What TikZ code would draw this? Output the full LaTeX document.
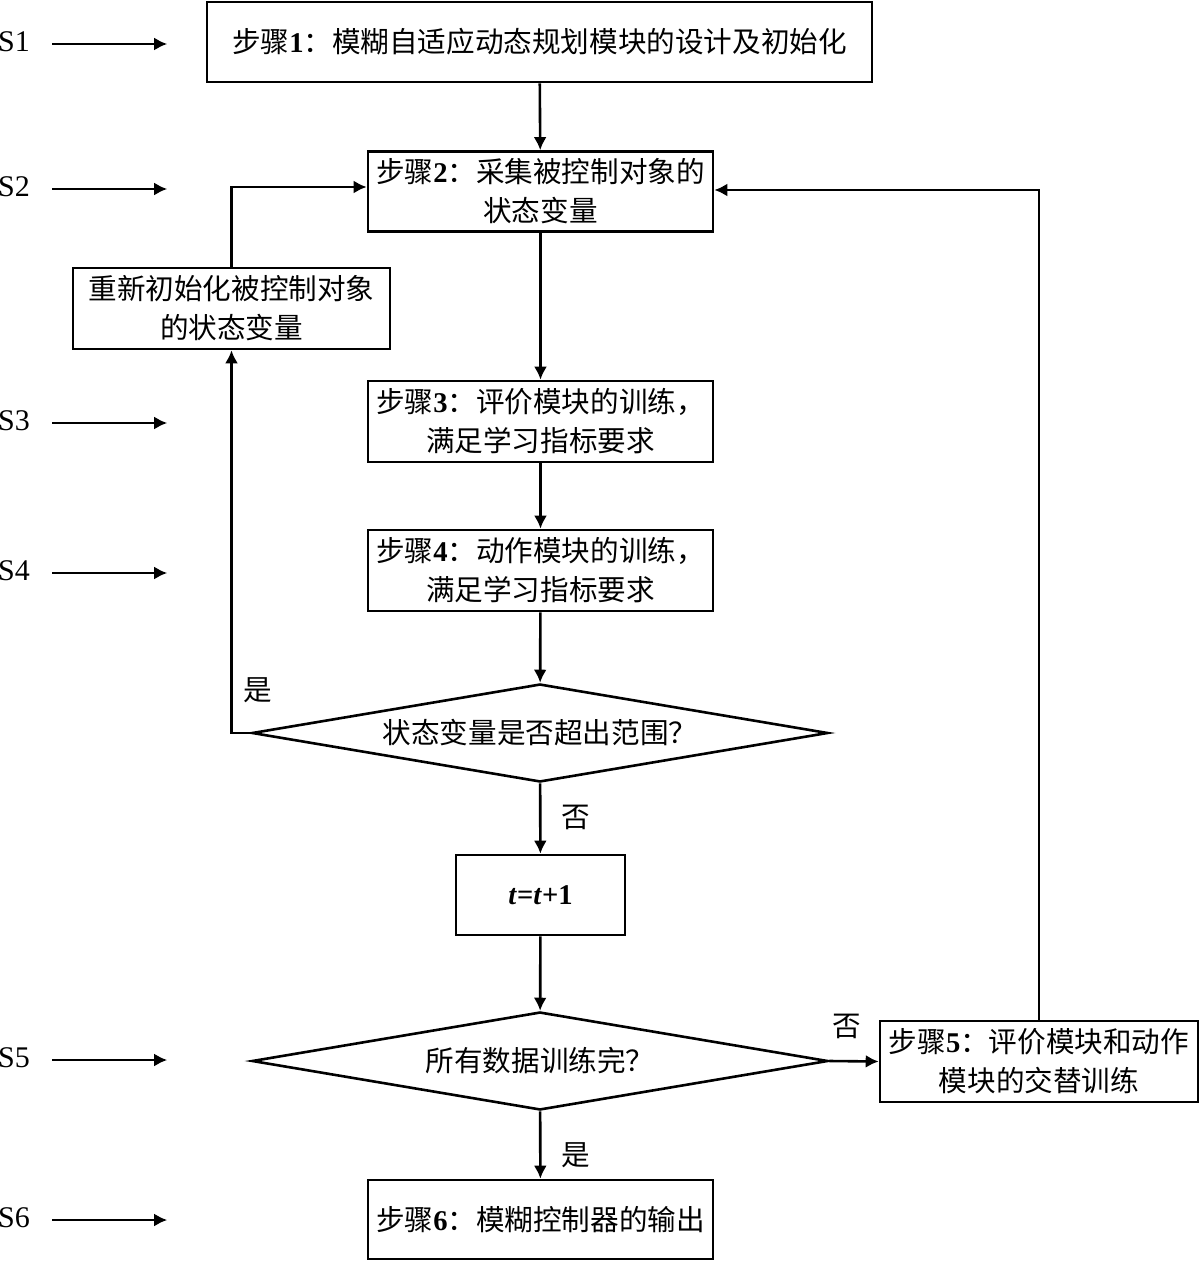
\documentclass[tikz,border=0pt]{standalone}
\usepackage{fontspec}
\setmainfont{Liberation Serif}
\newfontfamily\cjk{Noto Sans CJK SC}
\usetikzlibrary{arrows.meta,shapes.geometric,calc}
\newcommand\stepnum[1]{{\rmfamily\bfseries #1}}
\begin{document}
\begin{tikzpicture}[x=0.5pt,y=-0.5pt,
  box/.style={draw,line width=1.3pt,inner sep=0pt,align=center,font=\cjk\fontsize{14.3}{19.5}\selectfont},
  dia/.style={draw,diamond,line width=1.3pt,inner sep=0pt,aspect=5.88,minimum width=288pt,minimum height=49pt,font=\cjk\fontsize{14.3}{19.5}\selectfont},
  arr/.style={line width=1.3pt,-{Latex[length=6.5pt,width=6.5pt]}},
  ln/.style={line width=1.3pt},
  lbl/.style={font=\cjk\fontsize{14.3}{19.5}\selectfont,inner sep=0pt},
  slbl/.style={font=\rmfamily\fontsize{15}{18}\selectfont,inner sep=0pt}]
\path[use as bounding box] (0,0) rectangle (1200,1262);
% main boxes
\node[box,minimum width=332.5pt,minimum height=40pt] (b1) at (539.5,42) {步骤\stepnum{1}：模糊自适应动态规划模块的设计及初始化};
\node[box,minimum width=172.5pt,minimum height=40pt] (b2) at (540.5,191.5) {步骤\stepnum{2}：采集被控制对象的\\状态变量};
\node[box,minimum width=158.5pt,minimum height=40.5pt] (re) at (231.5,308.5) {重新初始化被控制对象\\的状态变量};
\node[box,minimum width=172.5pt,minimum height=40.5pt] (b3) at (540.5,421.5) {步骤\stepnum{3}：评价模块的训练，\\满足学习指标要求};
\node[box,minimum width=172.5pt,minimum height=40.5pt] (b4) at (540.5,570.5) {步骤\stepnum{4}：动作模块的训练，\\满足学习指标要求};
\node[dia] (d1) at (540,733) {状态变量是否超出范围？};
\node[box,minimum width=84.5pt,minimum height=40pt,font=\rmfamily\bfseries\fontsize{14.3}{17}\selectfont] (tt) at (540.5,895) {\textit{t}=\textit{t}+1};
\node[dia] (d2) at (540,1061) {所有数据训练完？};
\node[box,minimum width=159pt,minimum height=40.5pt] (b5) at (1039,1061.5) {步骤\stepnum{5}：评价模块和动作\\模块的交替训练};
\node[box,minimum width=172.5pt,minimum height=39.5pt] (b6) at (540.5,1219.5) {步骤\stepnum{6}：模糊控制器的输出};
% connectors
\draw[arr] (b1) -- (b2);
\draw[arr] (b2) -- (b3);
\draw[arr] (b3) -- (b4);
\draw[arr] (b4) -- (d1);
\draw[arr] (d1.west) -| (re.south);
\draw[arr] (re.north) |- ($(b2.west)+(0,-4.5)$);
\draw[arr] (d1) -- (tt);
\draw[arr] (tt) -- (d2);
\draw[arr] (d2.east) -- (b5.west);
\draw[arr] (b5.north) |- ($(b2.east)+(0,-1.5)$);
\draw[arr] (d2) -- (b6);
% branch labels
\node[lbl] (ly1) at (258,690) {是};
\node[lbl] (ln1) at (576,817) {否};
\node[lbl] (ln2) at (847,1026) {否};
\node[lbl] (ly2) at (576,1155) {是};
% step markers
\foreach \n/\yy in {1/42,2/187,3/421,4/571,5/1058,6/1218}{
  \node[slbl] (s\n) at (14,\yy) {S\n};
  \draw[arr] ([xshift=11pt,yshift=-1pt]s\n.east) -- ++(115,0);
}
\end{tikzpicture}
\end{document}
